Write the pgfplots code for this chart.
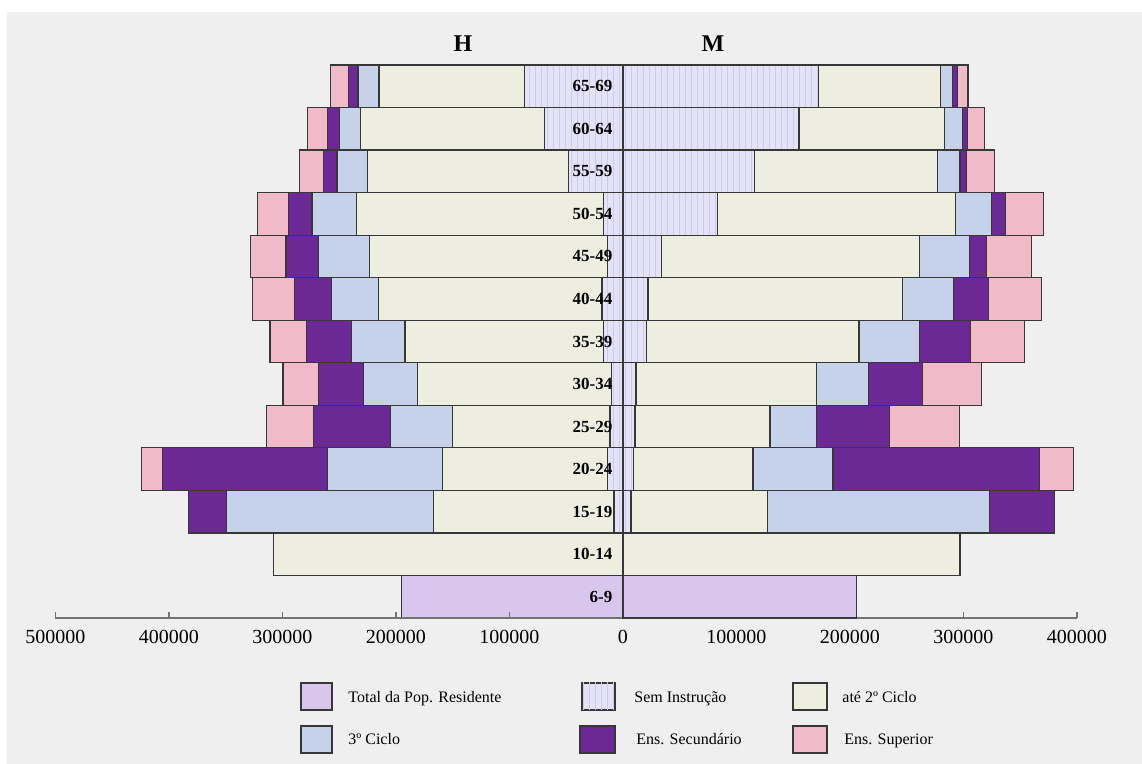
\documentclass[border=0pt]{standalone}
\usepackage{fontspec}
\setmainfont{Liberation Serif}
\usepackage{pgfplots}
\usepackage{pgfplotstable}
\pgfplotsset{compat=1.18}
\usetikzlibrary{patterns}

\definecolor{bg}{RGB}{239,239,239}
\definecolor{totc}{RGB}{216,198,236}
\definecolor{semc}{RGB}{228,226,246}
\definecolor{semline}{RGB}{206,202,236}
\definecolor{atec}{RGB}{237,237,224}
\definecolor{cicc}{RGB}{198,210,234}
\definecolor{secc}{RGB}{108,40,148}
\definecolor{supc}{RGB}{240,186,200}
\definecolor{edge}{RGB}{55,55,55}

% H (men): negative values
\pgfplotstableread{
y total sem ate cic sec sup
0 -195000 0 0 0 0 0
1 0 0 -308000 0 0 0
2 0 -8000 -159000 -182000 -34000 0
3 0 -14000 -145000 -101000 -146000 -18000
4 0 -11500 -139000 -54500 -68000 -41000
5 0 -10000 -171000 -47500 -40000 -31000
6 0 -17000 -175000 -47000 -40000 -32000
7 0 -18500 -197000 -41000 -33000 -37000
8 0 -14000 -209000 -45000 -29000 -31000
9 0 -17000 -218000 -39000 -21000 -27000
10 0 -48000 -177000 -27000 -12000 -21000
11 0 -69000 -162000 -19000 -10000 -18000
12 0 -87000 -128000 -18500 -8000 -16000
}\dataH

% M (women): positive values
\pgfplotstableread{
y total sem ate cic sec sup
0 206000 0 0 0 0 0
1 0 0 297000 0 0 0
2 0 7000 120000 196000 57000 0
3 0 9500 105000 70500 182000 30000
4 0 10500 119000 41000 64000 62000
5 0 11500 159000 46000 47500 52000
6 0 21000 187000 53000 45000 48000
7 0 22000 224000 45000 31000 47000
8 0 34000 227000 44000 15000 40000
9 0 83000 210000 32000 12000 33500
10 0 116000 161000 20000 6000 24000
11 0 155000 128000 16000 4500 15000
12 0 172000 108000 10500 4500 9000
}\dataM

\pgfplotsset{
  pyr/.style={
    at={(27.75pt,73pt)}, anchor=south west,
    scale only axis, width=510.75pt, height=276.5pt,
    xmin=-500000, xmax=400000, ymin=-0.5, ymax=12.5,
    xbar stacked, bar width=1, clip=false,
    every axis plot/.append style={draw=edge, line width=0.6pt},
  }
}

\begin{document}
\begin{tikzpicture}
\fill[white] (0,0) rectangle (571pt,382pt);
\fill[bg] (3.5pt,0) rectangle (571pt,376pt);
\useasboundingbox (0,0) rectangle (571pt,382pt);

\begin{axis}[pyr, hide axis]
\addplot[fill=totc] table[x=total,y=y]{\dataH};
\addplot[fill=semc, postaction={pattern=vertical lines, pattern color=semline}] table[x=sem,y=y]{\dataH};
\addplot[fill=atec] table[x=ate,y=y]{\dataH};
\addplot[fill=cicc] table[x=cic,y=y]{\dataH};
\addplot[fill=secc] table[x=sec,y=y]{\dataH};
\addplot[fill=supc] table[x=sup,y=y]{\dataH};
\end{axis}

\begin{axis}[pyr,
  axis y line=none, axis x line=bottom,
  x axis line style={-, draw=black!55, line width=0.6pt},
  scaled x ticks=false,
  xtick={-500000,-400000,-300000,-200000,-100000,0,100000,200000,300000,400000},
  xticklabels={500000,400000,300000,200000,100000,0,100000,200000,300000,400000},
  tick align=inside, major tick length=3pt,
  tick style={draw=black!55, line width=0.6pt},
  xticklabel style={font=\fontsize{10}{11}\selectfont, yshift=-2.5pt},
  /pgf/number format/assume math mode=true,
  ytick=\empty]
\addplot[fill=totc] table[x=total,y=y]{\dataM};
\addplot[fill=semc, postaction={pattern=vertical lines, pattern color=semline}] table[x=sem,y=y]{\dataM};
\addplot[fill=atec] table[x=ate,y=y]{\dataM};
\addplot[fill=cicc] table[x=cic,y=y]{\dataM};
\addplot[fill=secc] table[x=sec,y=y]{\dataM};
\addplot[fill=supc] table[x=sup,y=y]{\dataM};
\foreach \i/\lab in {0/6-9,1/10-14,2/15-19,3/20-24,4/25-29,5/30-34,6/35-39,7/40-44,8/45-49,9/50-54,10/55-59,11/60-64,12/65-69}{
  \edef\tmp{\noexpand\node[anchor=east, font=\noexpand\fontsize{8.5}{10}\noexpand\selectfont\noexpand\bfseries, inner sep=0pt] at (axis cs:-9000,\i) {\lab};}
  \tmp
}
\end{axis}

\node[font=\fontsize{12}{14}\selectfont\bfseries] at (231.5pt,360pt) {H};
\node[font=\fontsize{12}{14}\selectfont\bfseries] at (356.5pt,360pt) {M};

% legend
\begin{scope}[every node/.style={anchor=base west, inner sep=0pt, font=\fontsize{8}{10}\selectfont}]
\draw[edge, line width=0.6pt, fill=totc] (150.5pt,27pt) rectangle (166pt,40.5pt);
\node at (174pt,30.8pt) {Total da Pop. Residente};
\draw[edge, line width=0.6pt, fill=semc, postaction={pattern=vertical lines, pattern color=semline}] (291pt,27pt) rectangle (307.5pt,40.5pt);
\node at (317pt,30.8pt) {Sem Instrução};
\draw[edge, line width=0.6pt, fill=atec] (396.5pt,27pt) rectangle (413.5pt,40.5pt);
\node at (421pt,30.8pt) {até 2º Ciclo};
\draw[edge, line width=0.6pt, fill=cicc] (150.5pt,5.5pt) rectangle (166pt,19pt);
\node at (174pt,9.5pt) {3º Ciclo};
\draw[edge, line width=0.6pt, fill=secc] (290pt,5.5pt) rectangle (307.5pt,19pt);
\node at (318pt,9.5pt) {Ens. Secundário};
\draw[edge, line width=0.6pt, fill=supc] (396.5pt,5.5pt) rectangle (413.5pt,19pt);
\node at (422pt,9.5pt) {Ens. Superior};
\end{scope}
\end{tikzpicture}
\end{document}
